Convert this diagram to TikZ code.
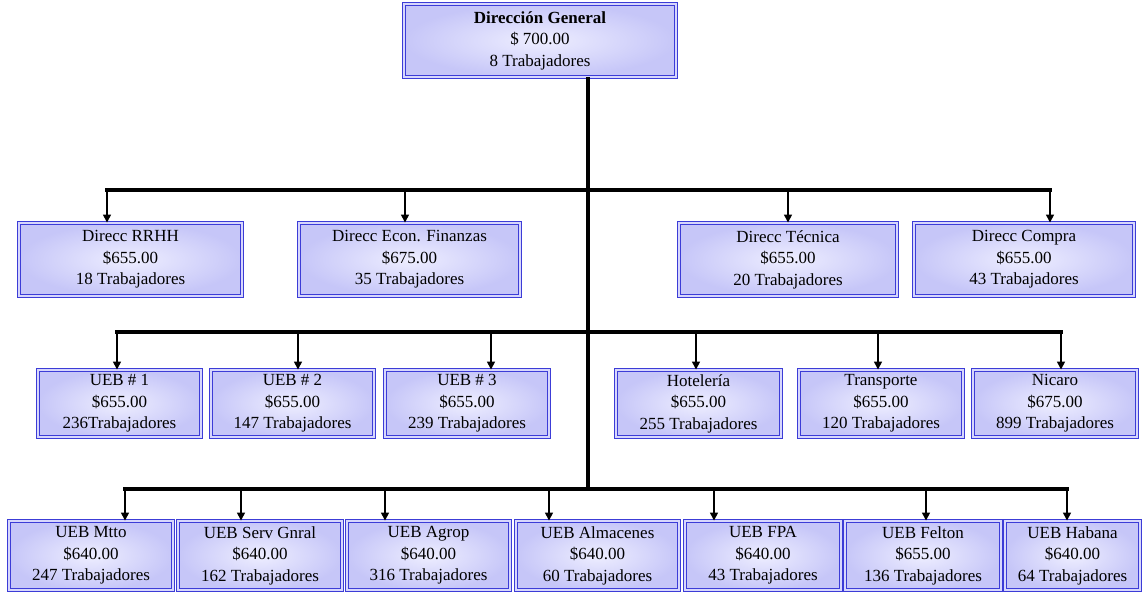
\documentclass[tikz,border=0pt]{standalone}
\usepackage{fontspec}
\setmainfont{Liberation Serif}
\usetikzlibrary{arrows.meta}
\definecolor{boxline}{RGB}{60,60,215}
\definecolor{boxin}{RGB}{238,238,255}
\definecolor{boxout}{RGB}{198,198,248}
\definecolor{boxgap}{RGB}{215,215,252}
\tikzset{
  orgbox/.style={rectangle, draw=boxline, line width=0.9pt, double=boxgap, double distance=1.6pt,
    inner color=boxin, outer color=boxout, align=center, inner sep=0pt,
    font=\fontsize{17}{21.5}\selectfont, minimum height=#1},
  orgbox/.default=70pt,
  bar/.style={line width=3.2pt, black},
  drop/.style={line width=1.4pt, black, -{Triangle[width=8pt,length=8pt]}}
}
\begin{document}
\begin{tikzpicture}[x=1pt,y=-1pt]
\useasboundingbox (0,0) rectangle (1142,592);
% nodes
\node[orgbox=73pt, minimum width=272pt] (dg) at (540,40.5) {\textbf{Dirección General}\\\$ 700.00\\8 Trabajadores};

\node[orgbox=73pt, minimum width=223pt] (rrhh) at (130.5,259.5) {Direcc RRHH\\\$655.00\\18 Trabajadores};
\node[orgbox=73pt, minimum width=221pt] (econ) at (409.5,259.5) {Direcc Econ. Finanzas\\\$675.00\\35 Trabajadores};
\node[orgbox=73pt, minimum width=218pt] (tec) at (788,259.5) {Direcc Técnica\\\$655.00\\20 Trabajadores};
\node[orgbox=73pt, minimum width=220pt] (comp) at (1024,259.5) {Direcc Compra\\\$655.00\\43 Trabajadores};

\node[orgbox=67pt, minimum width=163pt] (u1) at (119.5,403.5) {UEB \# 1\\\$655.00\\236Trabajadores};
\node[orgbox=67pt, minimum width=163pt] (u2) at (292.5,403.5) {UEB \# 2\\\$655.00\\147 Trabajadores};
\node[orgbox=67pt, minimum width=164pt] (u3) at (467,403.5) {UEB \# 3\\\$655.00\\239 Trabajadores};
\node[orgbox=67pt, minimum width=165pt] (hot) at (698.5,403.5) {Hotelería\\\$655.00\\255 Trabajadores};
\node[orgbox=67pt, minimum width=164pt] (tra) at (881,403.5) {Transporte\\\$655.00\\120 Trabajadores};
\node[orgbox=67pt, minimum width=164pt] (nic) at (1055,403.5) {Nicaro\\\$675.00\\899 Trabajadores};

\node[orgbox=69pt, minimum width=164pt] (mtto) at (91,555.5) {UEB Mtto\\\$640.00\\247 Trabajadores};
\node[orgbox=69pt, minimum width=164pt] (serv) at (260,555.5) {UEB Serv Gnral\\\$640.00\\162 Trabajadores};
\node[orgbox=69pt, minimum width=163pt] (agro) at (428.5,555.5) {UEB Agrop\\\$640.00\\316 Trabajadores};
\node[orgbox=69pt, minimum width=163pt] (alm) at (597.5,555.5) {UEB Almacenes\\\$640.00\\60 Trabajadores};
\node[orgbox=69pt, minimum width=156pt] (fpa) at (763,555.5) {UEB FPA\\\$640.00\\43 Trabajadores};
\node[orgbox=69pt, minimum width=156pt] (fel) at (923,555.5) {UEB Felton\\\$655.00\\136 Trabajadores};
\node[orgbox=69pt, minimum width=135pt] (hab) at (1072.5,555.5) {UEB Habana\\\$640.00\\64 Trabajadores};

% bar coordinates
\coordinate (top) at (588,78);
\coordinate (b1l) at (107,190);
\coordinate (b1r) at (1050,190);
\coordinate (b2l) at (117,332);
\coordinate (b2r) at (1061,332);
\coordinate (b3l) at (125,489);
\coordinate (b3r) at (1067,489);
\coordinate (b3m) at (588,489);

% trunk and bars
\draw[bar] (top |- dg.south) -- (b3m);
\draw[bar, line cap=rect] (b1l) -- (b1r);
\draw[bar, line cap=rect] (b2l) -- (b2r);
\draw[bar, line cap=rect] (b3l) -- (b3r);

% level 1 drops
\coordinate (d11) at (107,190);
\coordinate (d12) at (405,190);
\coordinate (d13) at (788,190);
\coordinate (d14) at (1050,190);
\draw[drop] (d11) -- (d11 |- rrhh.north);
\draw[drop] (d12) -- (d12 |- econ.north);
\draw[drop] (d13) -- (d13 |- tec.north);
\draw[drop] (d14) -- (d14 |- comp.north);

% level 2 drops
\coordinate (d21) at (117,332);
\coordinate (d22) at (298,332);
\coordinate (d23) at (491,332);
\coordinate (d24) at (696,332);
\coordinate (d25) at (878,332);
\coordinate (d26) at (1061,332);
\draw[drop] (d21) -- (d21 |- u1.north);
\draw[drop] (d22) -- (d22 |- u2.north);
\draw[drop] (d23) -- (d23 |- u3.north);
\draw[drop] (d24) -- (d24 |- hot.north);
\draw[drop] (d25) -- (d25 |- tra.north);
\draw[drop] (d26) -- (d26 |- nic.north);

% level 3 drops
\coordinate (d31) at (125,489);
\coordinate (d32) at (241,489);
\coordinate (d33) at (385,489);
\coordinate (d34) at (549,489);
\coordinate (d35) at (714,489);
\coordinate (d36) at (926,489);
\coordinate (d37) at (1067,489);
\draw[drop] (d31) -- (d31 |- mtto.north);
\draw[drop] (d32) -- (d32 |- serv.north);
\draw[drop] (d33) -- (d33 |- agro.north);
\draw[drop] (d34) -- (d34 |- alm.north);
\draw[drop] (d35) -- (d35 |- fpa.north);
\draw[drop] (d36) -- (d36 |- fel.north);
\draw[drop] (d37) -- (d37 |- hab.north);
\end{tikzpicture}
\end{document}
